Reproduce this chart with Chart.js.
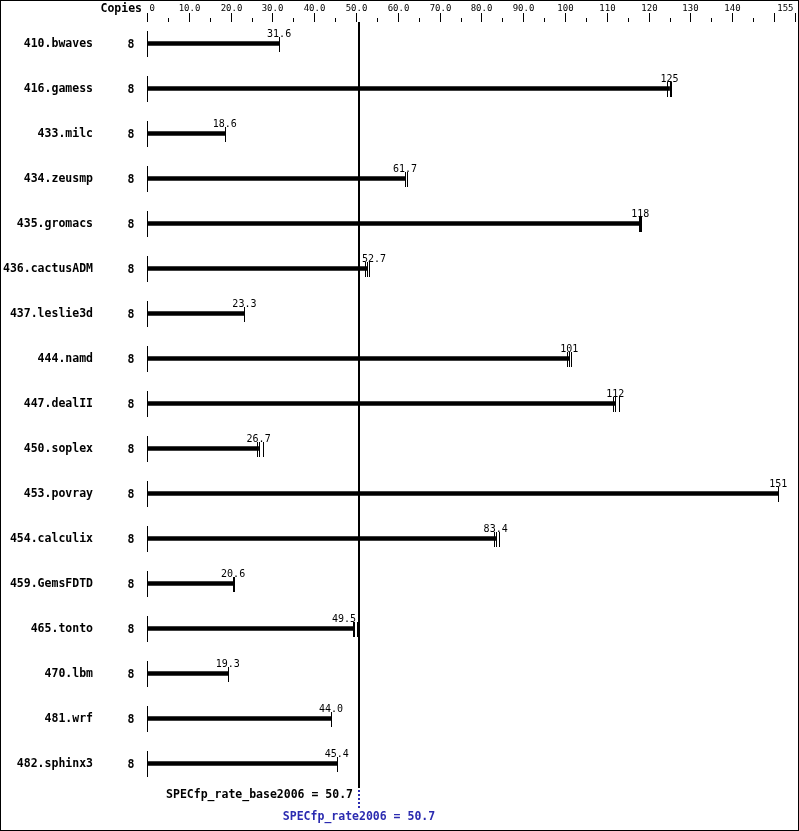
<!DOCTYPE html>
<html>
<head>
<meta charset="utf-8">
<script src="https://cdn.jsdelivr.net/npm/chart.js@4.4.0/dist/chart.umd.min.js"></script>
<style>
  body { margin: 0; background: #fff; }
  #wrap { width: 799px; height: 831px; }
</style>
</head>
<body>
<div id="wrap"><canvas id="spec" width="799" height="831"></canvas></div>
<script>
// SPECfp_rate2006 per-benchmark ratios
var benchmarks = ["410.bwaves", "416.gamess", "433.milc", "434.zeusmp", "435.gromacs",
  "436.cactusADM", "437.leslie3d", "444.namd", "447.dealII", "450.soplex", "453.povray",
  "454.calculix", "459.GemsFDTD", "465.tonto", "470.lbm", "481.wrf", "482.sphinx3"];
var copies = [8, 8, 8, 8, 8, 8, 8, 8, 8, 8, 8, 8, 8, 8, 8, 8, 8];
var ratios = [31.6, 125, 18.6, 61.7, 118, 52.7, 23.3, 101, 112, 26.7, 151, 83.4, 20.6, 49.5, 19.3, 44.0, 45.4];
var ratioLabels = ["31.6", "125", "18.6", "61.7", "118", "52.7", "23.3", "101", "112", "26.7", "151",
  "83.4", "20.6", "49.5", "19.3", "44.0", "45.4"];
// the three individual runs (tick marks at bar ends)
var runs = [
  [31.6, 31.6, 31.6], [124.3, 125, 125.4], [18.6, 18.6, 18.6], [61.6, 61.7, 62.1],
  [117.8, 118, 118.1], [52.2, 52.7, 53.0], [23.3, 23.3, 23.3], [100.4, 101, 101.5],
  [111.4, 112, 113.0], [26.3, 26.7, 27.8], [151, 151, 151], [83.0, 83.4, 84.1],
  [20.5, 20.6, 20.7], [49.2, 49.5, 50.3], [19.3, 19.3, 19.3], [44.0, 44.0, 44.0], [45.4, 45.4, 45.4]
];
var axisTicks = [0, 5, 10, 15, 20, 25, 30, 35, 40, 45, 50, 55, 60, 65, 70, 75, 80, 85, 90, 95,
  100, 105, 110, 115, 120, 125, 130, 135, 140, 145, 150, 155];
var axisLabels = { 0: "0", 10: "10.0", 20: "20.0", 30: "30.0", 40: "40.0", 50: "50.0", 60: "60.0",
  70: "70.0", 80: "80.0", 90: "90.0", 100: "100", 110: "110", 120: "120", 130: "130", 140: "140", 155: "155" };
var baseMean = 50.7;
var peakMean = 50.7;

var MONO = "'DejaVu Sans Mono', 'Liberation Mono', monospace";
Chart.defaults.font.family = MONO;
Chart.defaults.color = "#000";

var specPlugin = {
  id: "specDecor",
  afterDraw: function (chart) {
    var ctx = chart.ctx;
    var xs = chart.scales.x, ys = chart.scales.y;
    var x0 = Math.round(xs.getPixelForValue(0)) + 0.5;
    ctx.save();

    // frame
    ctx.strokeStyle = "#000";
    ctx.lineWidth = 1;
    ctx.strokeRect(0.5, 0.5, chart.width - 1, chart.height - 1);

    // header
    ctx.fillStyle = "#000";
    ctx.font = "bold 11.5px " + MONO;
    ctx.textAlign = "right";
    ctx.textBaseline = "middle";
    ctx.fillText("Copies", 142, 9);

    // top axis
    ctx.font = "9px " + MONO;
    ctx.textBaseline = "alphabetic";
    axisTicks.forEach(function (t) {
      var px = Math.round(xs.getPixelForValue(t)) + 0.5;
      var major = (t % 10 === 0) || t === 155;
      ctx.beginPath();
      ctx.moveTo(px, major ? 13 : 18);
      ctx.lineTo(px, 22);
      ctx.stroke();
      if (axisLabels[t] !== undefined) {
        ctx.textAlign = t === 0 ? "left" : (t === 155 ? "right" : "center");
        var lx = t === 0 ? px + 2 : (t === 155 ? px - 2 : px);
        ctx.fillText(axisLabels[t], lx, 11);
      }
    });

    var xm = Math.round(xs.getPixelForValue(baseMean));

    benchmarks.forEach(function (name, i) {
      var y = Math.round(ys.getPixelForValue(i));
      // base line
      ctx.lineWidth = 1;
      ctx.beginPath();
      ctx.moveTo(x0, y - 13);
      ctx.lineTo(x0, y + 13);
      ctx.stroke();
      // copies
      ctx.font = "bold 11.5px " + MONO;
      ctx.textAlign = "center";
      ctx.textBaseline = "middle";
      ctx.fillText(String(copies[i]), 131, y + 1);
      // run ticks
      runs[i].forEach(function (r) {
        var rx = Math.round(xs.getPixelForValue(r)) + 0.5;
        ctx.beginPath();
        ctx.moveTo(rx, y - 7);
        ctx.lineTo(rx, y + 8);
        ctx.stroke();
      });
      // value label
      ctx.font = "10px " + MONO;
      ctx.textBaseline = "alphabetic";
      var ex = xs.getPixelForValue(ratios[i]);
      var w = ctx.measureText(ratioLabels[i]).width;
      var lx = ex, align = "center";
      if (ex - w / 2 < xm + 3 && ex + w / 2 > xm - 3) {
        if (ratios[i] >= baseMean) { align = "left"; lx = xm + 3; }
        else { align = "right"; lx = xm - 3; }
      }
      ctx.textAlign = align;
      ctx.fillText(ratioLabels[i], lx, y - 7);
    });

    // mean line
    ctx.lineWidth = 2;
    ctx.beginPath();
    ctx.moveTo(xm, 22);
    ctx.lineTo(xm, 788);
    ctx.stroke();

    ctx.strokeStyle = "#2b2bb0";
    ctx.lineWidth = 2;
    ctx.setLineDash([2, 2]);
    ctx.beginPath();
    ctx.moveTo(xm, 790);
    ctx.lineTo(xm, 808);
    ctx.stroke();
    ctx.setLineDash([]);

    ctx.font = "bold 11.5px " + MONO;
    ctx.textBaseline = "middle";
    ctx.fillStyle = "#000";
    ctx.textAlign = "right";
    ctx.fillText("SPECfp_rate_base2006 = " + baseMean.toFixed(1), xm - 6, 795);
    ctx.fillStyle = "#2b2bb0";
    ctx.textAlign = "center";
    ctx.fillText("SPECfp_rate2006 = " + peakMean.toFixed(1), xm, 817);
    ctx.restore();
  }
};

new Chart(document.getElementById("spec").getContext("2d"), {
  type: "bar",
  data: {
    labels: benchmarks,
    datasets: [{
      data: ratios,
      backgroundColor: "#000",
      borderWidth: 0,
      barThickness: 4
    }]
  },
  options: {
    indexAxis: "y",
    responsive: false,
    animation: false,
    devicePixelRatio: 1,
    layout: { padding: { top: 21, right: 4, bottom: 45, left: 0 } },
    plugins: { legend: { display: false }, tooltip: { enabled: false } },
    scales: {
      x: {
        display: false,
        position: "top",
        min: 0,
        max: 155
      },
      y: {
        grid: { display: false, drawTicks: false },
        border: { display: false },
        ticks: {
          padding: 54,
          labelOffset: 1,
          font: { size: 11.5, weight: "bold" }
        },
        afterFit: function (s) { s.width = 147; s.paddingTop = 0; s.paddingBottom = 0; }
      }
    }
  },
  plugins: [specPlugin]
});
</script>
</body>
</html>
